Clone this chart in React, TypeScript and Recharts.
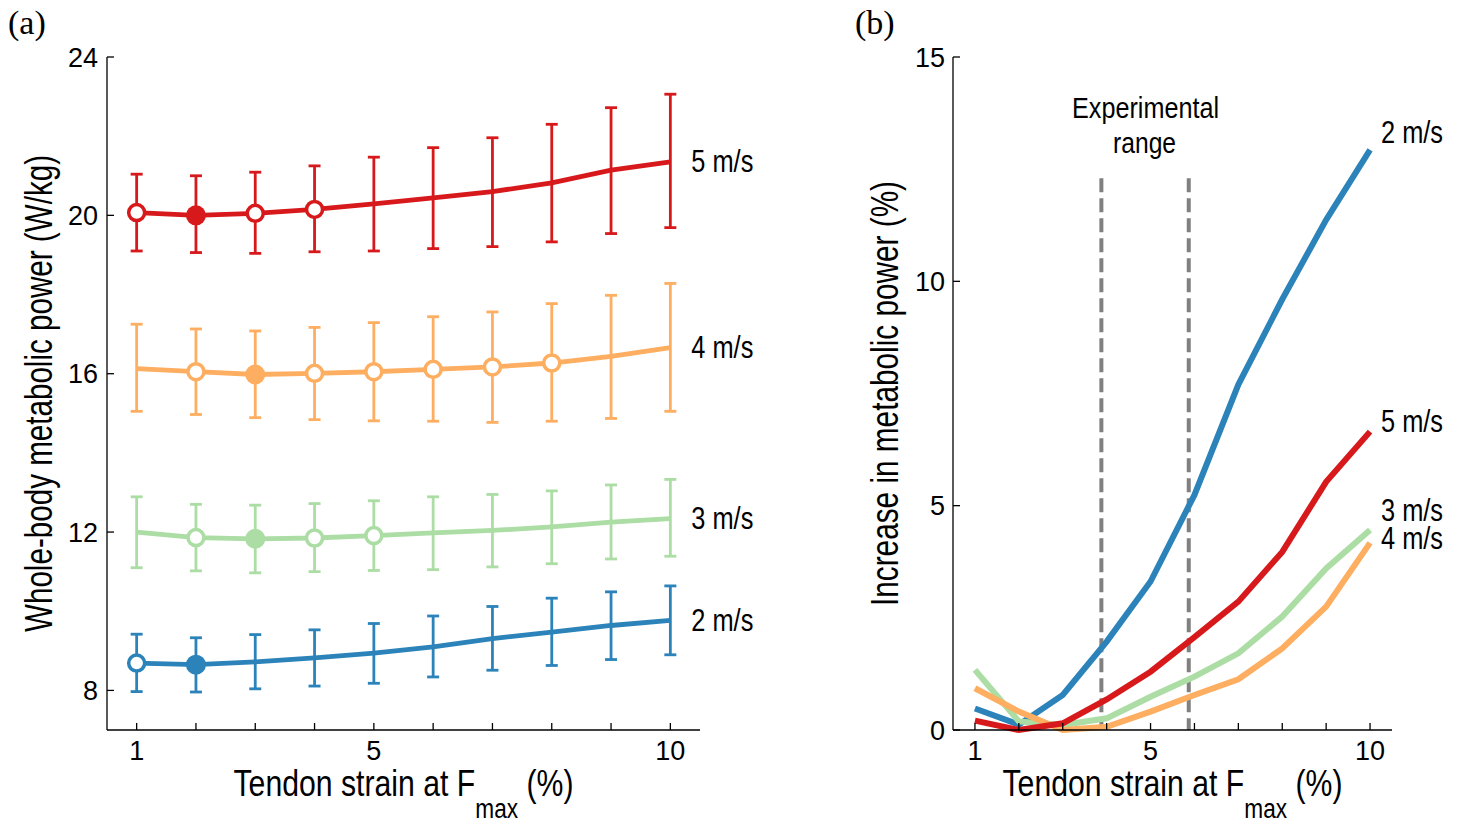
import { LineChart, Line, XAxis, YAxis, ErrorBar, ReferenceLine, ReferenceArea } from 'recharts'

const strain = [1, 2, 3, 4, 5, 6, 7, 8, 9, 10]
const xTickLabels = [1, 5, 10]
const powerTicks = [8, 12, 16, 20, 24]
const increaseTicks = [0, 5, 10, 15]

// (a) whole-body metabolic power, W/kg: mean and ends of the error bars
const mean2 = [8.69, 8.65, 8.72, 8.82, 8.94, 9.1, 9.31, 9.47, 9.64, 9.77]
const upper2 = [9.42, 9.33, 9.41, 9.53, 9.69, 9.88, 10.12, 10.33, 10.49, 10.64]
const lower2 = [7.97, 7.96, 8.04, 8.11, 8.18, 8.34, 8.51, 8.63, 8.78, 8.9]
const mean3 = [12.0, 11.86, 11.83, 11.85, 11.91, 11.98, 12.04, 12.13, 12.25, 12.34]
const upper3 = [12.89, 12.7, 12.68, 12.72, 12.79, 12.89, 12.95, 13.04, 13.19, 13.33]
const lower3 = [11.1, 11.02, 10.97, 11.0, 11.03, 11.05, 11.12, 11.2, 11.32, 11.39]
const mean4 = [16.13, 16.05, 15.98, 16.01, 16.05, 16.11, 16.17, 16.27, 16.44, 16.66]
const upper4 = [17.25, 17.13, 17.08, 17.17, 17.29, 17.44, 17.56, 17.77, 17.98, 18.28]
const lower4 = [15.05, 14.97, 14.89, 14.84, 14.81, 14.8, 14.77, 14.8, 14.87, 15.05]
const mean5 = [20.07, 20.0, 20.05, 20.15, 20.29, 20.44, 20.6, 20.82, 21.14, 21.35]
const upper5 = [21.04, 21.0, 21.09, 21.25, 21.47, 21.71, 21.96, 22.3, 22.72, 23.06]
const lower5 = [19.1, 19.06, 19.04, 19.08, 19.1, 19.16, 19.21, 19.33, 19.54, 19.69]

// markers: o = open circle, f = filled circle, '' = none
const marks2 = ['o', 'f', '', '', '', '', '', '', '', '']
const marks3 = ['', 'o', 'f', 'o', 'o', '', '', '', '', '']
const marks4 = ['', 'o', 'f', 'o', 'o', 'o', 'o', 'o', '', '']
const marks5 = ['o', 'f', 'o', 'o', '', '', '', '', '', '']

// (b) increase in metabolic power, %
const inc2 = [0.48, 0.12, 0.78, 1.97, 3.31, 5.24, 7.7, 9.6, 11.37, 12.93]
const inc3 = [1.34, 0.19, 0.11, 0.26, 0.74, 1.19, 1.71, 2.53, 3.6, 4.46]
const inc4 = [0.93, 0.41, 0.0, 0.07, 0.41, 0.78, 1.13, 1.82, 2.75, 4.17]
const inc5 = [0.21, 0.0, 0.15, 0.68, 1.3, 2.07, 2.86, 3.97, 5.53, 6.65]

const expRange = [3.88, 5.87]
const expTop = 12.3

const BLUE = '#2b83ba'
const GREEN = '#abdda4'
const ORANGE = '#fdae61'
const RED = '#d7191c'
// no condensed face installed, so labels get squeezed with textLength
const SANS = "'Liberation Sans', Arial, sans-serif"

const powerData = strain.map((x, i) => ({
  x,
  m2: mean2[i], e2: [mean2[i] - lower2[i], upper2[i] - mean2[i]],
  m3: mean3[i], e3: [mean3[i] - lower3[i], upper3[i] - mean3[i]],
  m4: mean4[i], e4: [mean4[i] - lower4[i], upper4[i] - mean4[i]],
  m5: mean5[i], e5: [mean5[i] - lower5[i], upper5[i] - mean5[i]],
}))

const increaseData = strain.map((x, i) => ({ x, v2: inc2[i], v3: inc3[i], v4: inc4[i], v5: inc5[i] }))

const powerSeries = [
  { key: 'm2', err: 'e2', color: BLUE, marks: marks2, name: '2 m/s' },
  { key: 'm3', err: 'e3', color: GREEN, marks: marks3, name: '3 m/s' },
  { key: 'm4', err: 'e4', color: ORANGE, marks: marks4, name: '4 m/s' },
  { key: 'm5', err: 'e5', color: RED, marks: marks5, name: '5 m/s' },
]

const increaseSeries = [
  { key: 'v2', color: BLUE, name: '2 m/s', dy: -17 },
  { key: 'v3', color: GREEN, name: '3 m/s', dy: -19 },
  { key: 'v4', color: ORANGE, name: '4 m/s', dy: -4 },
  { key: 'v5', color: RED, name: '5 m/s', dy: -10 },
]

function markerDot(marks: string[], color: string) {
  return (p: any) => {
    const m = marks[p.index]
    if (m === 'o')
      return <circle key={p.index} cx={p.cx} cy={p.cy} r={8} fill="#fff" stroke={color} strokeWidth={3.5} />
    if (m === 'f') return <circle key={p.index} cx={p.cx} cy={p.cy} r={10} fill={color} stroke="none" />
    return <g key={p.index} />
  }
}

function endLabel(text: string, dx: number, dy: number) {
  return (p: any) =>
    p.index === strain.length - 1 ? (
      <text
        key={p.index}
        x={p.x + dx}
        y={p.y + dy}
        dominantBaseline="central"
        fontFamily={SANS}
        fontSize={31}
        textLength={62}
        lengthAdjust="spacingAndGlyphs"
        fill="#000"
      >
        {text}
      </text>
    ) : (
      <g key={p.index} />
    )
}

function strainLabel({ viewBox }: any) {
  const cx = viewBox.x + viewBox.width / 2
  return (
    <text
      x={cx - 170}
      y={viewBox.y + 66}
      fontFamily={SANS}
      fontSize={36}
      textLength={340}
      lengthAdjust="spacingAndGlyphs"
      fill="#000"
    >
      <tspan>Tendon strain at F</tspan>
      <tspan dy={22} fontSize={27}>max</tspan>
      <tspan dy={-22}> (%)</tspan>
    </text>
  )
}

function yTitle(text: string, len: number) {
  return ({ viewBox }: any) => {
    const x = viewBox.x + viewBox.width - 55
    const y = viewBox.y + viewBox.height / 2
    return (
      <text
        x={x}
        y={y + len / 2}
        transform={`rotate(-90, ${x}, ${y + len / 2})`}
        fontFamily={SANS}
        fontSize={38}
        textLength={len}
        lengthAdjust="spacingAndGlyphs"
        fill="#000"
      >
        {text}
      </text>
    )
  }
}

function expLabel({ viewBox }: any) {
  const cx = viewBox.x + viewBox.width / 2
  const bottom = viewBox.y + viewBox.height
  return (
    <g>
      <text x={cx - 73} y={bottom - 60} fontFamily={SANS} fontSize={29} textLength={147} lengthAdjust="spacingAndGlyphs" fill="#000">
        Experimental
      </text>
      <text x={cx - 32} y={bottom - 25} fontFamily={SANS} fontSize={29} textLength={63} lengthAdjust="spacingAndGlyphs" fill="#000">
        range
      </text>
    </g>
  )
}

const tickStyle = { fontSize: 27, fill: '#000', fontFamily: SANS }
const axisStroke = { stroke: '#000', strokeWidth: 1.3 }
const fmtStrain = (v: number) => (xTickLabels.includes(v) ? String(v) : '')

export default function App() {
  return (
    <div style={{ position: 'absolute', left: 0, top: 0, width: 1465, height: 820, background: '#fff', overflow: 'hidden' }}>
      <div style={{ position: 'absolute', left: 8, top: 4, fontFamily: "'Liberation Serif', serif", fontSize: 34 }}>(a)</div>
      <div style={{ position: 'absolute', left: 855, top: 4, fontFamily: "'Liberation Serif', serif", fontSize: 34 }}>(b)</div>

      <div style={{ position: 'absolute', left: 0, top: 0 }}>
        <LineChart width={800} height={820} data={powerData} margin={{ top: 57, right: 100, bottom: 40, left: 47 }}>
          <XAxis
            type="number"
            dataKey="x"
            domain={[0.5, 10.5]}
            ticks={strain}
            interval={0}
            tickFormatter={fmtStrain}
            height={50}
            tickSize={-7}
            tickMargin={18}
            tick={tickStyle}
            axisLine={axisStroke}
            tickLine={axisStroke}
            label={strainLabel}
          />
          <YAxis
            type="number"
            domain={[7, 24]}
            ticks={powerTicks}
            interval={0}
            width={60}
            tickSize={-7}
            tickMargin={16}
            tick={tickStyle}
            axisLine={axisStroke}
            tickLine={axisStroke}
            label={yTitle('Whole-body metabolic power (W/kg)', 477)}
          />
          {powerSeries.map((s) => (
            <Line
              key={s.key}
              type="linear"
              dataKey={s.key}
              stroke={s.color}
              strokeWidth={4.8}
              dot={markerDot(s.marks, s.color)}
              activeDot={false}
              label={endLabel(s.name, 21, 0)}
              isAnimationActive={false}
            >
              <ErrorBar dataKey={s.err} direction="y" width={6} stroke={s.color} strokeWidth={2.8} isAnimationActive={false} />
            </Line>
          ))}
        </LineChart>
      </div>

      <div style={{ position: 'absolute', left: 730, top: 0 }}>
        <LineChart width={735} height={820} data={increaseData} margin={{ top: 57, right: 73, bottom: 40, left: 163 }}>
          <XAxis
            type="number"
            dataKey="x"
            domain={[0.5, 10.5]}
            ticks={strain}
            interval={0}
            tickFormatter={fmtStrain}
            height={50}
            tickSize={-7}
            tickMargin={18}
            tick={tickStyle}
            axisLine={axisStroke}
            tickLine={axisStroke}
            label={strainLabel}
          />
          <YAxis
            type="number"
            domain={[0, 15]}
            ticks={increaseTicks}
            interval={0}
            width={60}
            tickSize={-7}
            tickMargin={15}
            tick={tickStyle}
            axisLine={axisStroke}
            tickLine={axisStroke}
            label={yTitle('Increase in metabolic power (%)', 425)}
          />
          <ReferenceArea
            x1={expRange[0]}
            x2={expRange[1]}
            y1={expTop}
            y2={15}
            fill="none"
            stroke="none"
            ifOverflow="visible"
            label={expLabel}
          />
          {expRange.map((x) => (
            <ReferenceLine
              key={x}
              segment={[{ x, y: expTop }, { x, y: 0 }]}
              stroke="#808080"
              strokeWidth={4}
              strokeDasharray="14 6"
            />
          ))}
          {increaseSeries.map((s) => (
            <Line
              key={s.key}
              type="linear"
              dataKey={s.key}
              stroke={s.color}
              strokeWidth={6}
              dot={false}
              activeDot={false}
              label={endLabel(s.name, 11, s.dy)}
              isAnimationActive={false}
            />
          ))}
        </LineChart>
      </div>
    </div>
  )
}
